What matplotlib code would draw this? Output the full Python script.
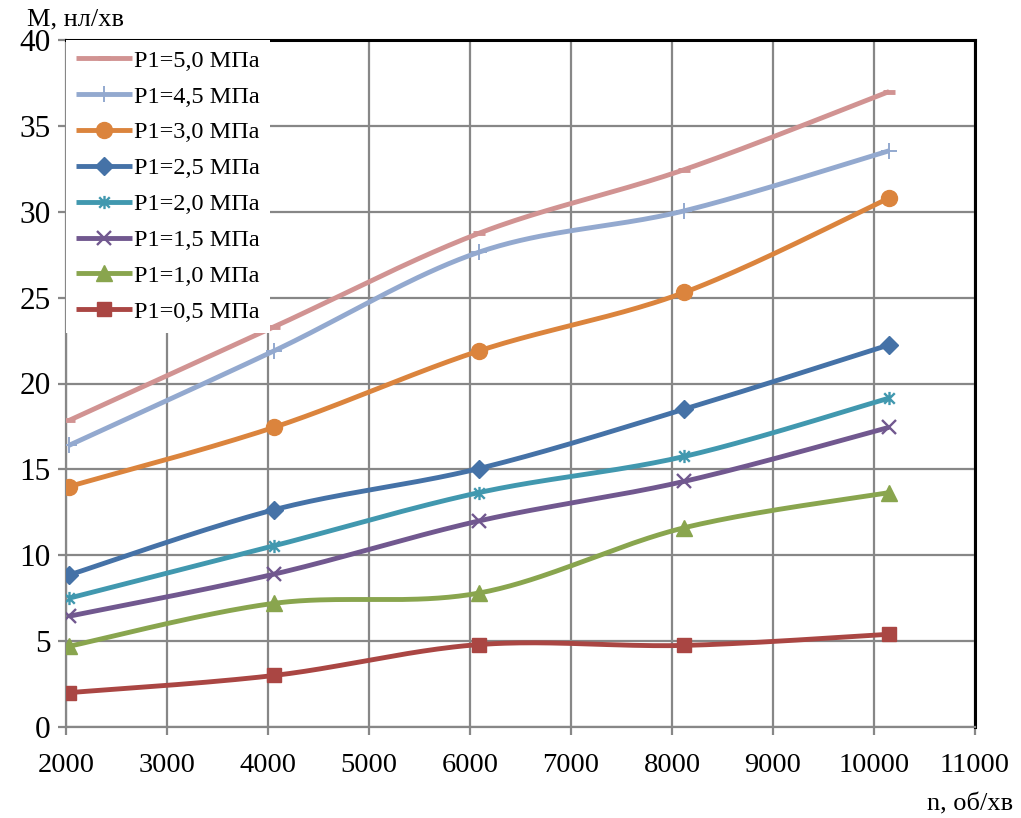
import numpy as np
import matplotlib
matplotlib.use("Agg")
import matplotlib.pyplot as plt
from matplotlib.path import Path

# Rotational speed of measurement points, rpm
n_rpm = [2030, 4060, 6090, 8120, 10150]

# Flow rate M (nl/min) for each inlet pressure P1
m_p05 = [2.0, 3.0, 4.8, 4.75, 5.4]
m_p10 = [4.7, 7.2, 7.8, 11.6, 13.65]
m_p15 = [6.45, 8.9, 12.0, 14.3, 17.45]
m_p20 = [7.5, 10.55, 13.65, 15.75, 19.15]
m_p25 = [8.85, 12.65, 15.05, 18.5, 22.25]
m_p30 = [14.0, 17.45, 21.9, 25.3, 30.8]
m_p45 = [16.4, 21.9, 27.65, 30.05, 33.55]
m_p50 = [17.85, 23.3, 28.75, 32.45, 37.0]

labels = ["P1=0,5 МПа", "P1=1,0 МПа", "P1=1,5 МПа", "P1=2,0 МПа",
          "P1=2,5 МПа", "P1=3,0 МПа", "P1=4,5 МПа", "P1=5,0 МПа"]
x_ticks = [2000, 3000, 4000, 5000, 6000, 7000, 8000, 9000, 10000, 11000]
y_ticks = [0, 5, 10, 15, 20, 25, 30, 35, 40]

plt.rcParams['font.family'] = ['Liberation Serif', 'DejaVu Serif']

# asterisk marker: diagonal cross with a vertical stroke
ast = Path([(-1, -1), (1, 1), (-1, 1), (1, -1), (0, -1.25), (0, 1.25)],
           [Path.MOVETO, Path.LINETO, Path.MOVETO, Path.LINETO, Path.MOVETO, Path.LINETO])

styles = [
    dict(color="#AA4643", marker="s", ms=10.5, mew=1),
    dict(color="#89A54E", marker="^", ms=12, mew=1),
    dict(color="#71588F", marker="x", ms=9.5, mew=1.7),
    dict(color="#4198AF", marker=ast, ms=9.5, mew=1.7),
    dict(color="#4572A7", marker="D", ms=9.5, mew=1),
    dict(color="#DB843D", marker="o", ms=11.5, mew=1),
    dict(color="#93A9CF", marker="+", ms=11, mew=1.4),
    dict(color="#D19392", marker="_", ms=8, mew=3.5),
]


def smooth_curve(x, y, steps=40):
    """Bezier smoothing through points (spreadsheet-style smoothed line)."""
    p = np.column_stack([x, y]).astype(float)
    k = len(p)
    xs, ys, idx = [], [], []
    for i in range(k - 1):
        p0 = p[max(i - 1, 0)]
        p1 = p[i]
        p2 = p[i + 1]
        p3 = p[min(i + 2, k - 1)]
        c1 = p1 + (p2 - p0) / 6.0
        c2 = p2 - (p3 - p1) / 6.0
        t = np.linspace(0, 1, steps, endpoint=(i == k - 2))[:, None]
        seg = ((1 - t) ** 3) * p1 + 3 * ((1 - t) ** 2) * t * c1 + 3 * (1 - t) * t ** 2 * c2 + t ** 3 * p2
        idx.append(len(xs))
        xs.extend(seg[:, 0])
        ys.extend(seg[:, 1])
    idx.append(len(xs) - 1)
    return np.array(xs), np.array(ys), idx


fig = plt.figure(figsize=(10.21, 8.18), dpi=100)
ax = fig.add_axes([66 / 1021, 1 - 727 / 818, (975 - 66) / 1021, (727 - 40) / 818])

series = [m_p05, m_p10, m_p15, m_p20, m_p25, m_p30, m_p45, m_p50]
handles = []
for vals, lab, st in zip(series, labels, styles):
    sx, sy, mi = smooth_curve(n_rpm, vals)
    h, = ax.plot(sx, sy, color=st["color"], lw=3.5, solid_capstyle="butt",
                 marker=st["marker"], markersize=st["ms"], markeredgewidth=st["mew"],
                 markerfacecolor=st["color"], markeredgecolor=st["color"],
                 markevery=mi, label=lab, zorder=3)
    handles.append(h)

ax.set_xlim(2000, 11000)
ax.set_ylim(0, 40)
ax.set_xticks(x_ticks)
ax.set_yticks(y_ticks)
ax.grid(True, color="#878787", lw=1.6)
ax.set_axisbelow(True)

for side in ("top", "right"):
    ax.spines[side].set_color("black")
    ax.spines[side].set_linewidth(2.2)
for side in ("left", "bottom"):
    ax.spines[side].set_color("#878787")
    ax.spines[side].set_linewidth(1.6)

ax.tick_params(axis="both", direction="out", length=6, width=1.6, color="#878787",
               labelcolor="black")
ax.tick_params(axis="x", pad=13, labelsize=20.5)
ax.tick_params(axis="y", pad=5, labelsize=22.5)

leg = ax.legend(handles[::-1], labels[::-1], loc="upper left", bbox_to_anchor=(0.0, 1.0),
                frameon=True, fancybox=False, framealpha=1, edgecolor="white",
                fontsize=17.5, handlelength=2.3, handletextpad=0.1, labelspacing=0.57,
                borderpad=0.4, borderaxespad=0.0, numpoints=1)
leg.get_frame().set_linewidth(0)

fig.text(27 / 1021, 1 - 25 / 818, "M, нл/хв", fontsize=19, va="baseline", ha="left")
fig.text(1013 / 1021, 1 - 810 / 818, "n, об/хв", fontsize=19, va="baseline", ha="right")

fig.savefig("out.png", dpi=100)
